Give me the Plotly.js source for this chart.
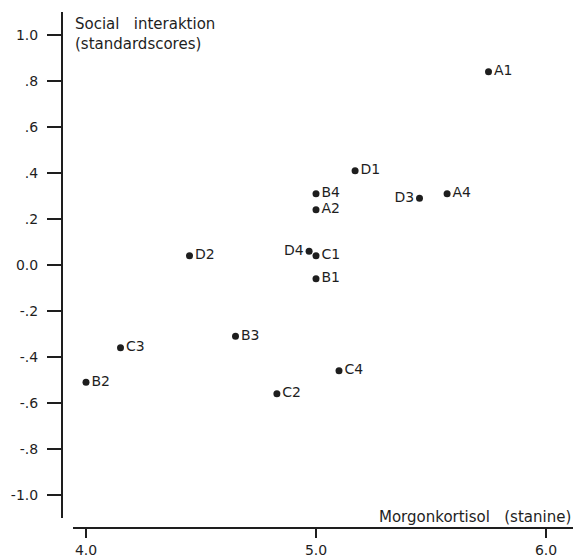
<!DOCTYPE html>
<html>
<head>
<meta charset="utf-8">
<script src="https://cdn.plot.ly/plotly-3.0.1.min.js"></script>
<style>html,body{margin:0;padding:0;background:#fff;}#chart{width:575px;height:558px;}</style>
</head>
<body>
<div id="chart"></div>
<script>
// Data
var pointLabels = ['A1','D1','B4','A2','D3','A4','D4','C1','B1','D2','C3','B2','B3','C2','C4'];
var cortisol = [5.75, 5.17, 5.00, 5.00, 5.45, 5.57, 4.97, 5.00, 5.00, 4.45, 4.15, 4.00, 4.65, 4.83, 5.10];
var social = [0.84, 0.41, 0.31, 0.24, 0.29, 0.31, 0.06, 0.04, -0.06, 0.04, -0.36, -0.51, -0.31, -0.56, -0.46];
var labelSide = ['middle right','middle right','middle right','middle right','middle left','middle right','middle left','middle right','middle right','middle right','middle right','middle right','middle right','middle right','middle right'];

var yTickVals = [1.0, 0.8, 0.6, 0.4, 0.2, 0.0, -0.2, -0.4, -0.6, -0.8, -1.0];
var yTickText = ['1.0', '.8', '.6', '.4', '.2', '0.0', '-.2', '-.4', '-.6', '-.8', '-1.0'];
var xTickVals = [4, 5, 6];
var xTickText = ['4.0', '5.0', '6.0'];

var yTitle = 'Social\u00a0\u00a0\u00a0interaktion<br>(standardscores)';
var xTitle = 'Morgonkortisol\u00a0\u00a0\u00a0(stanine)';

var ink = '#1e1e1e';
var fontFam = 'DejaVu Sans, Arial, sans-serif';

var trace = {
  type: 'scatter',
  mode: 'markers+text',
  x: cortisol,
  y: social,
  text: pointLabels,
  textposition: labelSide,
  textfont: {family: fontFam, size: 14, color: ink},
  marker: {size: 7, color: ink},
  hoverinfo: 'none',
  cliponaxis: false
};

var W = 575, H = 558;
var mL = 62, mR = 2, mT = 12, mB = 30;
var pw = W - mL - mR, ph = H - mT - mB;

var layout = {
  width: W, height: H,
  margin: {l: mL, r: mR, t: mT, b: mB, pad: 0},
  paper_bgcolor: '#fff',
  plot_bgcolor: 'rgba(0,0,0,0)',
  showlegend: false,
  font: {family: fontFam, color: ink},
  xaxis: {
    domain: [(73 - mL) / pw, 1],
    range: [4 - 13/230, 4 - 13/230 + 500/230],
    anchor: 'free', position: 0,
    showgrid: false, zeroline: false,
    showline: true, linecolor: ink, linewidth: 2,
    ticks: 'outside', ticklen: 9, tickwidth: 2, tickcolor: ink,
    ticklabelstandoff: 0,
    tickvals: xTickVals, ticktext: xTickText,
    tickfont: {family: fontFam, size: 14, color: ink}
  },
  yaxis: {
    domain: [(528 - 518) / ph, 1],
    range: [-1.1, 1.1],
    anchor: 'free', position: 0,
    showgrid: false, zeroline: false,
    showline: true, linecolor: ink, linewidth: 2,
    ticks: 'outside', ticklen: 14, tickwidth: 2, tickcolor: ink,
    ticklabelstandoff: 6,
    tickvals: yTickVals, ticktext: yTickText,
    tickfont: {family: fontFam, size: 14, color: ink}
  },
  annotations: [
    {text: yTitle, xref: 'paper', yref: 'paper', x: (73 - mL) / pw, y: (528 - 13) / ph,
     xanchor: 'left', yanchor: 'top', align: 'left', showarrow: false,
     font: {family: fontFam, size: 15, color: ink}},
    {text: xTitle, xref: 'paper', yref: 'paper', x: 1, y: (528 - 517) / ph,
     xanchor: 'right', yanchor: 'middle', align: 'right', showarrow: false,
     font: {family: fontFam, size: 15, color: ink}}
  ]
};

Plotly.newPlot('chart', [trace], layout, {displayModeBar: false, staticPlot: true});
</script>
</body>
</html>
